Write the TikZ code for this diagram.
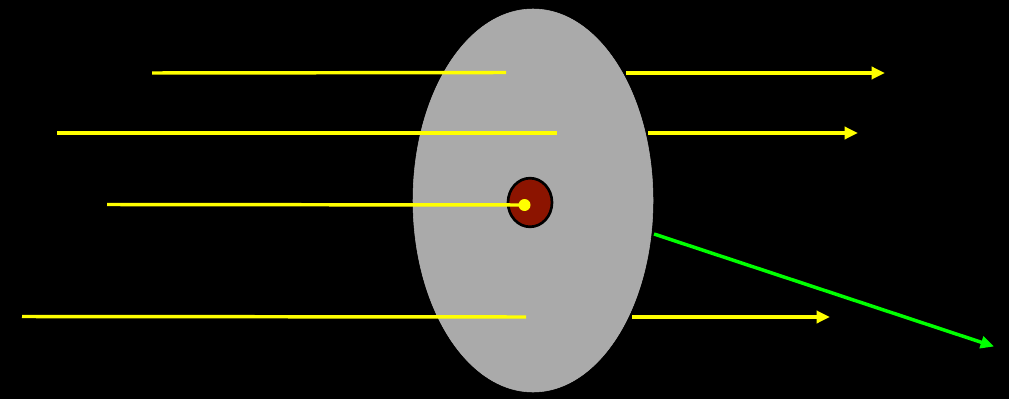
\documentclass[tikz,border=0pt]{standalone}
\usetikzlibrary{arrows.meta,shapes.geometric}
\definecolor{ray}{RGB}{255,255,0}
\definecolor{nucl}{RGB}{140,20,0}
\definecolor{disk}{RGB}{170,170,170}
\definecolor{defl}{RGB}{0,255,0}
\begin{document}
\begin{tikzpicture}[x=0.75pt,y=-0.75pt,
  raystyle/.style={draw=ray,line width=2.6pt},
  rayarrow/.style={raystyle,-{Triangle[length=10pt,width=9pt]}},
  deflarrow/.style={draw=defl,line width=2.6pt,-{Triangle[length=10pt,width=9pt]}}]
\fill[black] (0,0) rectangle (1009,399);
\useasboundingbox (0,0) rectangle (1009,399);
\node[ellipse,fill=disk,draw=disk!90!white,inner sep=0pt,
  minimum width=180pt,minimum height=287.25pt] (disk) at (533,200.5) {};
\node[ellipse,fill=nucl,draw=black,line width=2pt,inner sep=0pt,
  minimum width=33pt,minimum height=36.5pt] (nuc) at (530,202.5) {};
% ray 1
\coordinate (a1) at (152,73); \coordinate (b1) at (506,72.5);
\coordinate (c1) at (626,73); \coordinate (d1) at (885,73);
\draw[raystyle] (a1) -- (b1);
\draw[rayarrow] (c1) -- (d1);
% ray 2
\coordinate (a2) at (57,133); \coordinate (b2) at (557,133);
\coordinate (c2) at (648,133); \coordinate (d2) at (858,133);
\draw[raystyle] (a2) -- (b2);
\draw[rayarrow] (c2) -- (d2);
% ray 3
\coordinate (a3) at (107,204.5);
\node[circle,fill=ray,inner sep=0pt,minimum size=9pt] (dot) at (524.5,205) {};
\draw[raystyle] (a3) -- (dot.center);
% ray 4
\coordinate (a4) at (22,316.5); \coordinate (b4) at (526,317);
\coordinate (c4) at (632,317); \coordinate (d4) at (830,317);
\draw[raystyle] (a4) -- (b4);
\draw[rayarrow] (c4) -- (d4);
% deflected
\coordinate (g1) at (654,234); \coordinate (g2) at (994,346.5);
\draw[deflarrow] (g1) -- (g2);
\end{tikzpicture}
\end{document}
